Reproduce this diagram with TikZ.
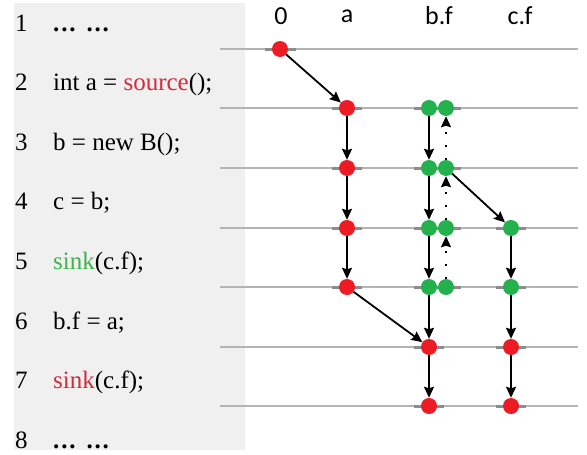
\documentclass[tikz,border=0pt]{standalone}
\usepackage{fontspec}
\setmainfont{Liberation Serif}
\newfontfamily\hdrfont{Carlito}
\usetikzlibrary{arrows.meta}
\definecolor{panelgray}{HTML}{F0F0F0}
\definecolor{linegray}{HTML}{B4B4B4}
\definecolor{seggray}{HTML}{8C8C8C}
\definecolor{dotred}{HTML}{ED1C24}
\definecolor{dotgreen}{HTML}{22B14C}
\definecolor{txtred}{HTML}{D42A3A}
\definecolor{txtgreen}{HTML}{3DB54A}
\newcommand{\mydots}{\textbf{.\kern1.8pt.\kern1.8pt.}\hspace{11pt}\textbf{.\kern1.8pt.\kern1.8pt.}}
\begin{document}
\begin{tikzpicture}[x=1pt,y=-1pt,
  code/.style={anchor=base west,inner sep=0pt,font=\fontsize{25}{25}\selectfont},
  hdr/.style={inner sep=0pt,font=\hdrfont\fontsize{26}{26}\selectfont},
  rdot/.style={circle,fill=dotred,minimum size=16pt,inner sep=0pt},
  gdot/.style={circle,fill=dotgreen,minimum size=16pt,inner sep=0pt},
  hline/.style={linegray,line width=1.5pt},
  seg/.style={seggray,line width=3pt},
  arr/.style={-{Stealth[length=11pt,width=10pt,inset=1.5pt]},line width=1.8pt,black},
  darr/.style={-{Stealth[length=11pt,width=10pt,inset=1.5pt]},line width=1.8pt,black,dash pattern=on 1.8pt off 11pt}
]
\useasboundingbox (0,0) rectangle (587,455);
\fill[panelgray] (14,3) rectangle (245,450);

% code
\foreach \i/\yy in {1/31,2/90,3/150,4/209,5/269,6/329,7/388,8/448}{
  \node[code] (num\i) at (15,\yy) {\i};
}
\node[code] (l1) at (53,31) {\mydots};
\node[code] (l2) at (53,90) {int a = \textcolor{txtred}{source}();};
\node[code] (l3) at (53,150) {b = new B();};
\node[code] (l4) at (53,209) {c = b;};
\node[code] (l5) at (53,269) {\textcolor{txtgreen}{sink}(c.f);};
\node[code] (l6) at (53,329) {b.f = a;};
\node[code] (l7) at (53,388) {\textcolor{txtred}{sink}(c.f);};
\node[code] (l8) at (53,448) {\mydots};

% headers
\node[hdr] (h0) at (281,16) {0};
\node[hdr] (ha) at (347,16) {a};
\node[hdr] (hb) at (439,16) {b.f};
\node[hdr] (hc) at (520,16) {c.f};

% horizontal lines
\foreach \yy in {49,108,168,228,287,347,406}{
  \draw[hline] (220,\yy) -- (578,\yy);
}
% darker segments
\draw[seg] (265,49) -- (296,49);
\foreach \yy in {108,168,228,287}{
  \draw[seg] (332,\yy) -- (362,\yy);
  \draw[seg] (414,\yy) -- (461,\yy);
}
\foreach \yy in {347,406}{
  \draw[seg] (414,\yy) -- (444,\yy);
}
\foreach \yy in {228,287,347,406}{
  \draw[seg] (496,\yy) -- (526,\yy);
}

% dots
\node[rdot] (z1) at (280,49) {};
\node[rdot] (a2) at (347,108) {};
\node[rdot] (a3) at (347,168) {};
\node[rdot] (a4) at (347,228) {};
\node[rdot] (a5) at (347,287) {};
\node[gdot] (bl2) at (429,108) {};
\node[gdot] (bl3) at (429,168) {};
\node[gdot] (bl4) at (429,228) {};
\node[gdot] (bl5) at (429,287) {};
\node[rdot] (bl6) at (429,347) {};
\node[rdot] (bl7) at (429,406) {};
\node[gdot] (br2) at (446,108) {};
\node[gdot] (br3) at (446,168) {};
\node[gdot] (br4) at (446,228) {};
\node[gdot] (br5) at (446,287) {};
\node[gdot] (c4) at (511,228) {};
\node[gdot] (c5) at (511,287) {};
\node[rdot] (c6) at (511,347) {};
\node[rdot] (c7) at (511,406) {};

% edges
\draw[arr] (z1) -- (a2);
\draw[arr] (a2) -- (a3);
\draw[arr] (a3) -- (a4);
\draw[arr] (a4) -- (a5);
\draw[arr] (a5) -- (bl6);
\draw[arr] (bl2) -- (bl3);
\draw[arr] (bl3) -- (bl4);
\draw[arr] (bl4) -- (bl5);
\draw[arr] (bl5) -- (bl6);
\draw[arr] (bl6) -- (bl7);
\draw[darr] (br3) -- (br2);
\draw[darr] (br4) -- (br3);
\draw[darr] (br5) -- (br4);
\draw[arr] (br3) -- (c4);
\draw[arr] (c4) -- (c5);
\draw[arr] (c5) -- (c6);
\draw[arr] (c6) -- (c7);
\end{tikzpicture}
\end{document}
